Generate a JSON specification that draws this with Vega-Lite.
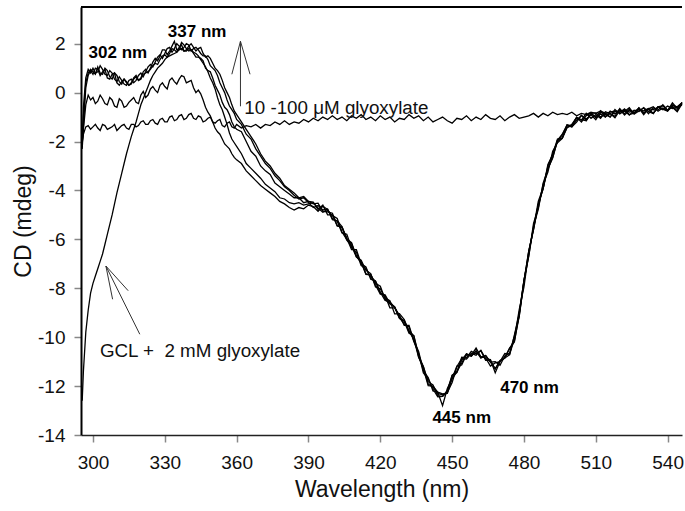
{
  "$schema": "https://vega.github.io/schema/vega-lite/v6.json",
  "autosize": {"type": "none"},
  "padding": {"left": 81, "top": 7, "right": 3, "bottom": 76},
  "width": 601,
  "height": 428,
  "background": "white",
  "config": {
    "view": {"stroke": null},
    "font": "Liberation Sans",
    "axis": {
      "grid": false,
      "tickColor": "#888888", "tickWidth": 1.5, "tickSize": 7,
      "labelFontSize": 19, "labelColor": "#111111",
      "labelFlush": false, "labelOverlap": false, "labelBound": false,
      "labelExpr": "'' + datum.value",
      "titleFontSize": 23, "titleFontWeight": "normal", "titleColor": "#111111"
    },
    "axisX": {"domainColor": "#222222", "domainWidth": 1.6, "labelPadding": 11, "titlePadding": 6},
    "axisY": {"domainColor": "#000000", "domainWidth": 2, "labelPadding": 9, "titlePadding": 2}
  },
  "datasets": {
    "curves": [
      {"x": 295.5, "a": -2.2, "b": -2.1, "c": -2.3, "d": -2.1, "e": -12.6, "f": -2.0},
      {"x": 296, "a": -1.0, "b": -0.6, "c": -1.4, "d": -1.5, "e": -11.4, "f": -1.7},
      {"x": 297, "a": 0.4, "b": 0.6, "c": 0.2, "d": -0.5, "e": -9.8, "f": -1.4},
      {"x": 298, "a": 0.8, "b": 0.95, "c": 0.7, "d": -0.1, "e": -8.9, "f": -1.35},
      {"x": 299, "a": 0.95, "b": 0.8, "c": 0.9, "d": -0.3, "e": -8.2, "f": -1.5},
      {"x": 300, "a": 0.85, "b": 1.0, "c": 0.75, "d": -0.2, "e": -7.8, "f": -1.4},
      {"x": 301, "a": 0.75, "b": 0.8, "c": 1.0, "d": -0.45, "e": -7.5, "f": -1.3},
      {"x": 302, "a": 1.05, "b": 0.85, "c": 0.95, "d": -0.35, "e": -7.2, "f": -1.45},
      {"x": 303, "a": 0.8, "b": 1.1, "c": 0.7, "d": -0.1, "e": -6.9, "f": -1.55},
      {"x": 304, "a": 0.75, "b": 0.95, "c": 0.85, "d": -0.25, "e": -6.6, "f": -1.3},
      {"x": 305, "a": 1.0, "b": 0.75, "c": 0.95, "d": -0.45, "e": -6.2, "f": -1.35},
      {"x": 306, "a": 0.9, "b": 0.7, "c": 0.6, "d": -0.5, "e": -5.8, "f": -1.5},
      {"x": 307, "a": 0.65, "b": 0.9, "c": 0.55, "d": -0.2, "e": -5.4, "f": -1.45},
      {"x": 308, "a": 0.55, "b": 0.8, "c": 0.75, "d": -0.3, "e": -5.0, "f": -1.4},
      {"x": 309, "a": 0.8, "b": 0.55, "c": 0.8, "d": -0.55, "e": -4.55, "f": -1.3},
      {"x": 310, "a": 0.7, "b": 0.45, "c": 0.4, "d": -0.6, "e": -4.1, "f": -1.55},
      {"x": 311, "a": 0.45, "b": 0.65, "c": 0.3, "d": -0.25, "e": -3.7, "f": -1.45},
      {"x": 312, "a": 0.35, "b": 0.5, "c": 0.45, "d": -0.35, "e": -3.3, "f": -1.35},
      {"x": 313, "a": 0.55, "b": 0.35, "c": 0.55, "d": -0.6, "e": -2.9, "f": -1.3},
      {"x": 314, "a": 0.45, "b": 0.3, "c": 0.4, "d": -0.55, "e": -2.5, "f": -1.45},
      {"x": 315, "a": 0.3, "b": 0.5, "c": 0.3, "d": -0.4, "e": -2.15, "f": -1.5},
      {"x": 316, "a": 0.4, "b": 0.55, "c": 0.35, "d": -0.3, "e": -1.8, "f": -1.3},
      {"x": 317, "a": 0.6, "b": 0.4, "c": 0.55, "d": -0.2, "e": -1.5, "f": -1.3},
      {"x": 318, "a": 0.7, "b": 0.5, "c": 0.65, "d": -0.4, "e": -1.2, "f": -1.4},
      {"x": 319, "a": 0.5, "b": 0.7, "c": 0.5, "d": -0.45, "e": -0.85, "f": -1.35},
      {"x": 320, "a": 0.6, "b": 0.8, "c": 0.55, "d": -0.1, "e": -0.5, "f": -1.2},
      {"x": 321, "a": 0.85, "b": 0.65, "c": 0.75, "d": 0.05, "e": -0.25, "f": -1.15},
      {"x": 322, "a": 0.95, "b": 0.85, "c": 0.8, "d": -0.2, "e": 0.0, "f": -1.3},
      {"x": 323, "a": 0.8, "b": 1.05, "c": 0.85, "d": -0.1, "e": 0.25, "f": -1.3},
      {"x": 324, "a": 1.0, "b": 1.15, "c": 0.95, "d": 0.15, "e": 0.5, "f": -1.15},
      {"x": 325, "a": 1.25, "b": 1.05, "c": 1.1, "d": 0.25, "e": 0.7, "f": -1.1},
      {"x": 326, "a": 1.4, "b": 1.25, "c": 1.2, "d": 0.1, "e": 0.85, "f": -1.25},
      {"x": 327, "a": 1.3, "b": 1.45, "c": 1.15, "d": 0.0, "e": 1.0, "f": -1.3},
      {"x": 328, "a": 1.5, "b": 1.55, "c": 1.35, "d": 0.3, "e": 1.1, "f": -1.1},
      {"x": 329, "a": 1.75, "b": 1.4, "c": 1.5, "d": 0.4, "e": 1.2, "f": -1.05},
      {"x": 330, "a": 1.75, "b": 1.6, "c": 1.55, "d": 0.25, "e": 1.35, "f": -1.2},
      {"x": 331, "a": 1.55, "b": 1.8, "c": 1.45, "d": 0.15, "e": 1.45, "f": -1.2},
      {"x": 332, "a": 1.7, "b": 1.85, "c": 1.6, "d": 0.5, "e": 1.5, "f": -1.0},
      {"x": 333, "a": 1.9, "b": 1.65, "c": 1.8, "d": 0.6, "e": 1.55, "f": -0.95},
      {"x": 334, "a": 2.1, "b": 1.8, "c": 1.75, "d": 0.45, "e": 1.6, "f": -1.15},
      {"x": 335, "a": 1.75, "b": 2.0, "c": 1.65, "d": 0.35, "e": 1.65, "f": -1.1},
      {"x": 336, "a": 1.8, "b": 1.9, "c": 1.85, "d": 0.55, "e": 1.75, "f": -0.95},
      {"x": 337, "a": 2.05, "b": 1.75, "c": 1.95, "d": 0.7, "e": 1.8, "f": -0.9},
      {"x": 338, "a": 1.95, "b": 1.85, "c": 1.7, "d": 0.65, "e": 1.7, "f": -1.1},
      {"x": 339, "a": 1.8, "b": 2.0, "c": 1.75, "d": 0.4, "e": 1.7, "f": -1.05},
      {"x": 340, "a": 1.7, "b": 1.95, "c": 1.9, "d": 0.45, "e": 1.8, "f": -0.9},
      {"x": 341, "a": 1.75, "b": 1.7, "c": 2.0, "d": 0.5, "e": 1.75, "f": -0.85},
      {"x": 342, "a": 1.6, "b": 1.8, "c": 1.85, "d": 0.2, "e": 1.65, "f": -1.05},
      {"x": 343, "a": 1.45, "b": 1.85, "c": 1.7, "d": 0.0, "e": 1.6, "f": -1.1},
      {"x": 344, "a": 1.45, "b": 1.75, "c": 1.8, "d": 0.1, "e": 1.5, "f": -0.95},
      {"x": 345, "a": 1.4, "b": 1.6, "c": 1.85, "d": -0.05, "e": 1.35, "f": -1.0},
      {"x": 346, "a": 1.3, "b": 1.5, "c": 1.6, "d": -0.3, "e": 1.2, "f": -1.2},
      {"x": 347, "a": 1.0, "b": 1.5, "c": 1.45, "d": -0.6, "e": 1.05, "f": -1.15},
      {"x": 348, "a": 0.9, "b": 1.35, "c": 1.5, "d": -0.8, "e": 0.85, "f": -1.05},
      {"x": 349, "a": 0.85, "b": 1.1, "c": 1.4, "d": -0.95, "e": 0.6, "f": -1.0},
      {"x": 350, "a": 0.6, "b": 1.0, "c": 1.2, "d": -1.2, "e": 0.4, "f": -1.2},
      {"x": 351, "a": 0.3, "b": 0.9, "c": 1.0, "d": -1.45, "e": 0.15, "f": -1.25},
      {"x": 352, "a": 0.1, "b": 0.7, "c": 0.9, "d": -1.6, "e": -0.2, "f": -1.15},
      {"x": 353, "a": -0.1, "b": 0.4, "c": 0.75, "d": -1.7, "e": -0.5, "f": -1.1},
      {"x": 354, "a": -0.4, "b": 0.2, "c": 0.5, "d": -1.9, "e": -0.7, "f": -1.35},
      {"x": 355, "a": -0.6, "b": 0.0, "c": 0.2, "d": -2.1, "e": -1.0, "f": -1.4},
      {"x": 356, "a": -0.7, "b": -0.3, "c": 0.0, "d": -2.2, "e": -1.3, "f": -1.25},
      {"x": 357, "a": -0.9, "b": -0.55, "c": -0.2, "d": -2.3, "e": -1.65, "f": -1.2},
      {"x": 358, "a": -1.2, "b": -0.7, "c": -0.5, "d": -2.5, "e": -1.9, "f": -1.4},
      {"x": 359, "a": -1.4, "b": -0.85, "c": -0.75, "d": -2.65, "e": -2.05, "f": -1.45},
      {"x": 360, "a": -1.5, "b": -1.1, "c": -0.9, "d": -2.75, "e": -2.2, "f": -1.3},
      {"x": 362, "a": -1.6, "b": -1.3, "c": -1.2, "d": -2.9, "e": -2.5, "f": -1.45},
      {"x": 364, "a": -2.0, "b": -1.7, "c": -1.5, "d": -3.2, "e": -2.9, "f": -1.35},
      {"x": 366, "a": -2.4, "b": -1.9, "c": -1.8, "d": -3.4, "e": -3.1, "f": -1.4},
      {"x": 368, "a": -2.6, "b": -2.3, "c": -2.1, "d": -3.6, "e": -3.3, "f": -1.3},
      {"x": 370, "a": -3.0, "b": -2.6, "c": -2.5, "d": -3.8, "e": -3.5, "f": -1.45},
      {"x": 372, "a": -3.2, "b": -2.9, "c": -2.8, "d": -3.95, "e": -3.75, "f": -1.3},
      {"x": 374, "a": -3.35, "b": -3.1, "c": -3.0, "d": -4.1, "e": -3.9, "f": -1.35},
      {"x": 376, "a": -3.7, "b": -3.4, "c": -3.3, "d": -4.25, "e": -4.05, "f": -1.2},
      {"x": 378, "a": -3.85, "b": -3.6, "c": -3.5, "d": -4.45, "e": -4.3, "f": -1.3},
      {"x": 380, "a": -4.0, "b": -3.85, "c": -3.8, "d": -4.55, "e": -4.35, "f": -1.15},
      {"x": 382, "a": -4.15, "b": -4.0, "c": -3.95, "d": -4.7, "e": -4.5, "f": -1.3},
      {"x": 384, "a": -4.3, "b": -4.2, "c": -4.1, "d": -4.8, "e": -4.55, "f": -1.2},
      {"x": 386, "a": -4.3, "b": -4.35, "c": -4.3, "d": -4.7, "e": -4.5, "f": -1.25},
      {"x": 388, "a": -4.5, "b": -4.3, "c": -4.25, "d": -4.75, "e": -4.6, "f": -1.1},
      {"x": 390, "a": -4.45, "b": -4.5, "c": -4.45, "d": -4.6, "e": -4.55, "f": -1.2},
      {"x": 392, "a": -4.48, "b": -4.7, "c": -4.55, "d": -4.66, "e": -4.5, "f": -1.05},
      {"x": 394, "a": -4.78, "b": -4.62, "c": -4.52, "d": -4.85, "e": -4.72, "f": -1.15},
      {"x": 396, "a": -4.6, "b": -4.8, "c": -4.85, "d": -4.65, "e": -4.89, "f": -1.0},
      {"x": 398, "a": -5.0, "b": -4.76, "c": -4.88, "d": -4.78, "e": -4.82, "f": -1.1},
      {"x": 400, "a": -5.0, "b": -5.2, "c": -4.93, "d": -5.15, "e": -5.03, "f": -0.95},
      {"x": 402, "a": -5.45, "b": -5.24, "c": -5.44, "d": -5.26, "e": -5.15, "f": -1.1},
      {"x": 404, "a": -5.5, "b": -5.48, "c": -5.52, "d": -5.74, "e": -5.7, "f": -1.0},
      {"x": 406, "a": -5.95, "b": -6.03, "c": -5.99, "d": -5.79, "e": -6.01, "f": -1.15},
      {"x": 408, "a": -6.42, "b": -6.27, "c": -6.14, "d": -6.34, "e": -6.18, "f": -0.95},
      {"x": 410, "a": -6.42, "b": -6.72, "c": -6.7, "d": -6.52, "e": -6.68, "f": -1.05},
      {"x": 412, "a": -7.0, "b": -6.85, "c": -6.95, "d": -7.07, "e": -6.91, "f": -0.9},
      {"x": 414, "a": -7.13, "b": -7.27, "c": -7.43, "d": -7.19, "e": -7.41, "f": -1.1},
      {"x": 416, "a": -7.63, "b": -7.4, "c": -7.45, "d": -7.55, "e": -7.45, "f": -1.0},
      {"x": 418, "a": -7.7, "b": -7.95, "c": -7.8, "d": -7.71, "e": -7.87, "f": -1.15},
      {"x": 420, "a": -8.2, "b": -8.02, "c": -7.92, "d": -8.16, "e": -8.24, "f": -0.95},
      {"x": 422, "a": -8.3, "b": -8.4, "c": -8.45, "d": -8.5, "e": -8.27, "f": -1.1},
      {"x": 424, "a": -8.8, "b": -8.51, "c": -8.63, "d": -8.55, "e": -8.63, "f": -1.0},
      {"x": 426, "a": -8.8, "b": -9.05, "c": -8.78, "d": -8.78, "e": -8.75, "f": -1.2},
      {"x": 428, "a": -9.1, "b": -9.04, "c": -9.24, "d": -9.2, "e": -9.2, "f": -1.05},
      {"x": 430, "a": -9.52, "b": -9.28, "c": -9.32, "d": -9.36, "e": -9.46, "f": -1.1},
      {"x": 432, "a": -9.52, "b": -9.78, "c": -9.74, "d": -9.84, "e": -9.58, "f": -0.9},
      {"x": 434, "a": -10.15, "b": -10.07, "c": -9.94, "d": -9.94, "e": -10.18, "f": -1.05},
      {"x": 436, "a": -10.58, "b": -10.82, "c": -10.8, "d": -10.74, "e": -10.66, "f": -0.95},
      {"x": 438, "a": -11.38, "b": -11.2, "c": -11.3, "d": -11.22, "e": -11.46, "f": -1.15},
      {"x": 440, "a": -11.65, "b": -11.82, "c": -11.98, "d": -11.92, "e": -11.7, "f": -1.0},
      {"x": 442, "a": -12.2, "b": -11.95, "c": -12.0, "d": -12.04, "e": -12.12, "f": -1.2},
      {"x": 444, "a": -12.25, "b": -12.4, "c": -12.25, "d": -12.3, "e": -12.44, "f": -1.1},
      {"x": 446, "a": -12.8, "b": -12.42, "c": -12.32, "d": -12.36, "e": -12.42, "f": -1.0},
      {"x": 448, "a": -12.1, "b": -12.25, "c": -12.3, "d": -12.26, "e": -12.18, "f": -1.15},
      {"x": 450, "a": -11.7, "b": -11.56, "c": -11.68, "d": -11.85, "e": -11.55, "f": -1.25},
      {"x": 452, "a": -11.42, "b": -11.45, "c": -11.18, "d": -11.2, "e": -11.4, "f": -1.05},
      {"x": 454, "a": -10.82, "b": -10.94, "c": -11.14, "d": -10.88, "e": -11.06, "f": -1.1},
      {"x": 456, "a": -10.85, "b": -10.68, "c": -10.72, "d": -10.9, "e": -10.68, "f": -0.95},
      {"x": 458, "a": -10.58, "b": -10.78, "c": -10.74, "d": -10.66, "e": -10.78, "f": -1.15},
      {"x": 460, "a": -10.68, "b": -10.57, "c": -10.44, "d": -10.74, "e": -10.56, "f": -1.0},
      {"x": 462, "a": -10.55, "b": -10.82, "c": -10.8, "d": -10.54, "e": -10.86, "f": -1.1},
      {"x": 464, "a": -10.95, "b": -10.75, "c": -10.85, "d": -10.89, "e": -10.75, "f": -0.9},
      {"x": 466, "a": -10.95, "b": -11.02, "c": -11.18, "d": -10.92, "e": -11.02, "f": -1.05},
      {"x": 468, "a": -11.3, "b": -11.0, "c": -11.05, "d": -11.45, "e": -11.29, "f": -1.1},
      {"x": 470, "a": -10.95, "b": -11.15, "c": -11.0, "d": -10.99, "e": -10.97, "f": -0.95},
      {"x": 472, "a": -10.85, "b": -10.77, "c": -10.67, "d": -10.85, "e": -10.83, "f": -1.15},
      {"x": 474, "a": -10.72, "b": -10.65, "c": -10.7, "d": -10.46, "e": -10.45, "f": -1.0},
      {"x": 476, "a": -9.92, "b": -9.96, "c": -10.08, "d": -10.16, "e": -10.2, "f": -0.9},
      {"x": 478, "a": -9.05, "b": -9.15, "c": -8.88, "d": -9.15, "e": -9.06, "f": -1.05},
      {"x": 480, "a": -7.68, "b": -7.74, "c": -7.94, "d": -7.7, "e": -7.68, "f": -1.0},
      {"x": 482, "a": -6.68, "b": -6.48, "c": -6.52, "d": -6.48, "e": -6.68, "f": -0.95},
      {"x": 484, "a": -5.35, "b": -5.58, "c": -5.54, "d": -5.6, "e": -5.46, "f": -0.85},
      {"x": 486, "a": -4.7, "b": -4.57, "c": -4.44, "d": -4.56, "e": -4.76, "f": -1.0},
      {"x": 488, "a": -3.75, "b": -3.92, "c": -3.9, "d": -3.94, "e": -3.7, "f": -0.85},
      {"x": 490, "a": -3.25, "b": -3.0, "c": -3.1, "d": -2.94, "e": -3.12, "f": -0.95},
      {"x": 492, "a": -2.4, "b": -2.52, "c": -2.68, "d": -2.54, "e": -2.64, "f": -0.8},
      {"x": 494, "a": -2.05, "b": -1.9, "c": -1.95, "d": -1.97, "e": -1.97, "f": -0.9},
      {"x": 496, "a": -1.87, "b": -1.85, "c": -1.7, "d": -1.87, "e": -1.73, "f": -0.85},
      {"x": 498, "a": -1.32, "b": -1.42, "c": -1.32, "d": -1.44, "e": -1.35, "f": -0.9},
      {"x": 500, "a": -1.35, "b": -1.35, "c": -1.4, "d": -1.3, "e": -1.4, "f": -0.8},
      {"x": 502, "a": -1.03, "b": -1.01, "c": -1.13, "d": -1.01, "e": -1.21, "f": -0.95},
      {"x": 504, "a": -1.13, "b": -1.2, "c": -0.93, "d": -1.11, "e": -0.93, "f": -0.85},
      {"x": 506, "a": -0.85, "b": -0.94, "c": -1.14, "d": -1.15, "e": -1.08, "f": -0.9},
      {"x": 508, "a": -1.05, "b": -0.83, "c": -0.87, "d": -0.85, "e": -0.91, "f": -0.8},
      {"x": 510, "a": -0.9, "b": -1.03, "c": -0.99, "d": -0.83, "e": -1.11, "f": -0.85},
      {"x": 512, "a": -1.05, "b": -0.87, "c": -0.74, "d": -1.0, "e": -0.8, "f": -0.75},
      {"x": 514, "a": -0.78, "b": -1.0, "c": -0.98, "d": -0.84, "e": -0.9, "f": -0.85},
      {"x": 516, "a": -0.86, "b": -0.76, "c": -0.86, "d": -1.0, "e": -1.0, "f": -0.8},
      {"x": 518, "a": -0.97, "b": -0.87, "c": -1.03, "d": -0.69, "e": -0.77, "f": -0.75},
      {"x": 520, "a": -0.65, "b": -0.68, "c": -0.73, "d": -0.87, "e": -0.81, "f": -0.8},
      {"x": 522, "a": -0.87, "b": -0.92, "c": -0.77, "d": -0.74, "e": -0.67, "f": -0.7},
      {"x": 524, "a": -0.68, "b": -0.72, "c": -0.62, "d": -0.92, "e": -0.9, "f": -0.8},
      {"x": 526, "a": -0.86, "b": -0.83, "c": -0.88, "d": -0.72, "e": -0.84, "f": -0.75},
      {"x": 528, "a": -0.62, "b": -0.63, "c": -0.75, "d": -0.77, "e": -0.65, "f": -0.7},
      {"x": 530, "a": -0.85, "b": -0.9, "c": -0.63, "d": -0.61, "e": -0.83, "f": -0.75},
      {"x": 532, "a": -0.67, "b": -0.66, "c": -0.86, "d": -0.78, "e": -0.68, "f": -0.65},
      {"x": 534, "a": -0.85, "b": -0.58, "c": -0.62, "d": -0.85, "e": -0.86, "f": -0.7},
      {"x": 536, "a": -0.58, "b": -0.76, "c": -0.72, "d": -0.58, "e": -0.58, "f": -0.6},
      {"x": 538, "a": -0.66, "b": -0.63, "c": -0.5, "d": -0.54, "e": -0.68, "f": -0.7},
      {"x": 540, "a": -0.74, "b": -0.74, "c": -0.72, "d": -0.72, "e": -0.76, "f": -0.55},
      {"x": 542, "a": -0.42, "b": -0.5, "c": -0.6, "d": -0.56, "e": -0.52, "f": -0.65},
      {"x": 544, "a": -0.65, "b": -0.62, "c": -0.78, "d": -0.74, "e": -0.58, "f": -0.6},
      {"x": 546, "a": -0.44, "b": -0.41, "c": -0.46, "d": -0.4, "e": -0.41, "f": -0.5}
    ],
    "peaks": [
      {"x": 310.4, "y": 1.6, "label": "302 nm"},
      {"x": 343.5, "y": 2.49, "label": "337 nm"},
      {"x": 454.0, "y": -13.3, "label": "445 nm"},
      {"x": 482.3, "y": -12.07, "label": "470 nm"}
    ],
    "notes": [
      {"x": 363.2, "y": -0.62, "label": "10 -100 μM glyoxylate"},
      {"x": 302.9, "y": -10.55, "label": "GCL + \u00a02 mM glyoxylate"}
    ],
    "arrows": [
      {"x": 361.6, "y": -0.56, "x2": 361.6, "y2": 2.1},
      {"x": 361.6, "y": 2.1, "x2": 358.0, "y2": 0.75},
      {"x": 361.6, "y": 2.1, "x2": 365.6, "y2": 0.75},
      {"x": 319.55, "y": -9.88, "x2": 305.4, "y2": -7.09},
      {"x": 305.4, "y": -7.09, "x2": 308.2, "y2": -8.45},
      {"x": 305.4, "y": -7.09, "x2": 314.7, "y2": -8.1}
    ],
    "frame": [{"x": 295, "x2": 546, "y": 3.5}]
  },
  "encoding": {
    "x": {
      "field": "x", "type": "quantitative",
      "scale": {"domain": [295, 546], "nice": false, "zero": false},
      "axis": {"title": "Wavelength (nm)", "values": [300, 330, 360, 390, 420, 450, 480, 510, 540]}
    },
    "y": {
      "field": "y", "type": "quantitative",
      "scale": {"domain": [-14, 3.5], "nice": false, "zero": false},
      "axis": {"title": "CD (mdeg)", "values": [-14, -12, -10, -8, -6, -4, -2, 0, 2]}
    }
  },
  "layer": [
    {
      "data": {"name": "curves"},
      "transform": [{"fold": ["a", "b", "c", "d", "e", "f"], "as": ["series", "y"]}],
      "mark": {"type": "line", "color": "#000000", "strokeWidth": 1.3},
      "encoding": {"detail": {"field": "series", "type": "nominal"}}
    },
    {
      "data": {"name": "frame"},
      "mark": {"type": "rule", "color": "#000000", "strokeWidth": 2},
      "encoding": {"x2": {"field": "x2"}}
    },
    {
      "data": {"name": "arrows"},
      "mark": {"type": "rule", "color": "#333333", "strokeWidth": 1},
      "encoding": {"x2": {"field": "x2"}, "y2": {"field": "y2"}}
    },
    {
      "data": {"name": "peaks"},
      "mark": {"type": "text", "font": "Liberation Sans", "fontSize": 17, "fontWeight": "bold", "color": "#000000", "align": "center", "baseline": "middle"},
      "encoding": {"text": {"field": "label"}}
    },
    {
      "data": {"name": "notes"},
      "mark": {"type": "text", "font": "Liberation Sans", "fontSize": 18.8, "color": "#111111", "align": "left", "baseline": "middle"},
      "encoding": {"text": {"field": "label"}}
    }
  ]
}
